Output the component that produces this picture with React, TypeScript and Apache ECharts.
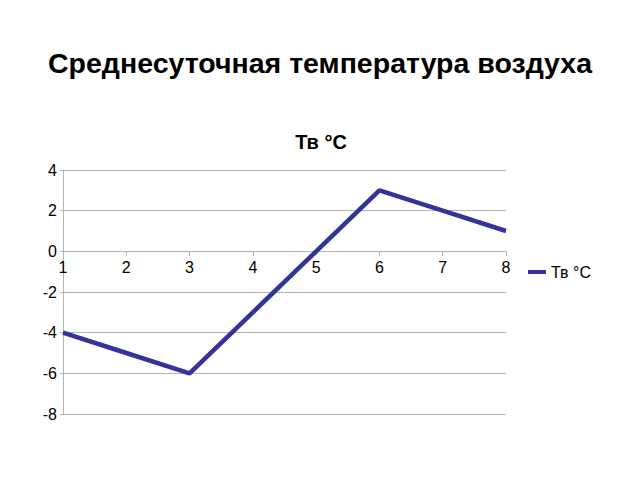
import { useEffect, useRef } from "react";
import * as echarts from "echarts";

const days = ["1", "2", "3", "4", "5", "6", "7", "8"];
const temps = [-4, -5, -6, -3, 0, 3, 2, 1];
const seriesName = "Тв °C";

export default function App() {
  const ref = useRef<HTMLDivElement>(null);

  useEffect(() => {
    if (!ref.current) return;
    const chart = echarts.init(ref.current, null, { renderer: "svg" });
    // the zero line sits 8/12 of the plot height above the bottom
    const plotH = 480 - 170 - 66;
    const zeroOffset = (plotH * 8) / 12;
    chart.setOption({
      animation: false,
      backgroundColor: "#fff",
      textStyle: { fontFamily: "Liberation Sans, Arial, sans-serif" },
      title: [
        {
          text: "Среднесуточная температура воздуха",
          left: "center",
          top: 43,
          textStyle: { fontSize: 28.5, fontWeight: "bold", color: "#000" },
        },
        {
          text: seriesName,
          left: 316,
          textAlign: "center",
          top: 127,
          textStyle: { fontSize: 20, fontWeight: "bold", color: "#000" },
        },
      ],
      legend: {
        left: 523,
        top: 259,
        orient: "vertical",
        icon: "rect",
        itemWidth: 18,
        itemHeight: 4,
        itemGap: 5,
        textStyle: { fontSize: 16, color: "#000" },
        data: [seriesName],
      },
      grid: { left: 63, right: 134, top: 170, bottom: 66 },
      xAxis: {
        type: "category",
        data: days,
        boundaryGap: false,
        offset: -zeroOffset,
        axisLine: { onZero: false, lineStyle: { color: "#b3b3b3" } },
        axisTick: { show: true, length: 4, lineStyle: { color: "#b3b3b3" } },
        axisLabel: { color: "#000", fontSize: 16, margin: 8 },
        splitLine: { show: false },
      },
      yAxis: {
        type: "value",
        min: -8,
        max: 4,
        interval: 2,
        axisLine: { show: true, lineStyle: { color: "#b3b3b3" } },
        axisTick: { show: true, length: 3, lineStyle: { color: "#b3b3b3" } },
        axisLabel: { color: "#000", fontSize: 16, margin: 6 },
        splitLine: { lineStyle: { color: "#b3b3b3" } },
      },
      series: [
        {
          name: seriesName,
          type: "line",
          data: temps,
          symbol: "none",
          lineStyle: { color: "#333399", width: 4.5 },
          itemStyle: { color: "#333399" },
        },
      ],
    });
    return () => chart.dispose();
  }, []);

  return (
    <div
      ref={ref}
      style={{ position: "fixed", left: 0, top: 0, width: 640, height: 480 }}
    />
  );
}
